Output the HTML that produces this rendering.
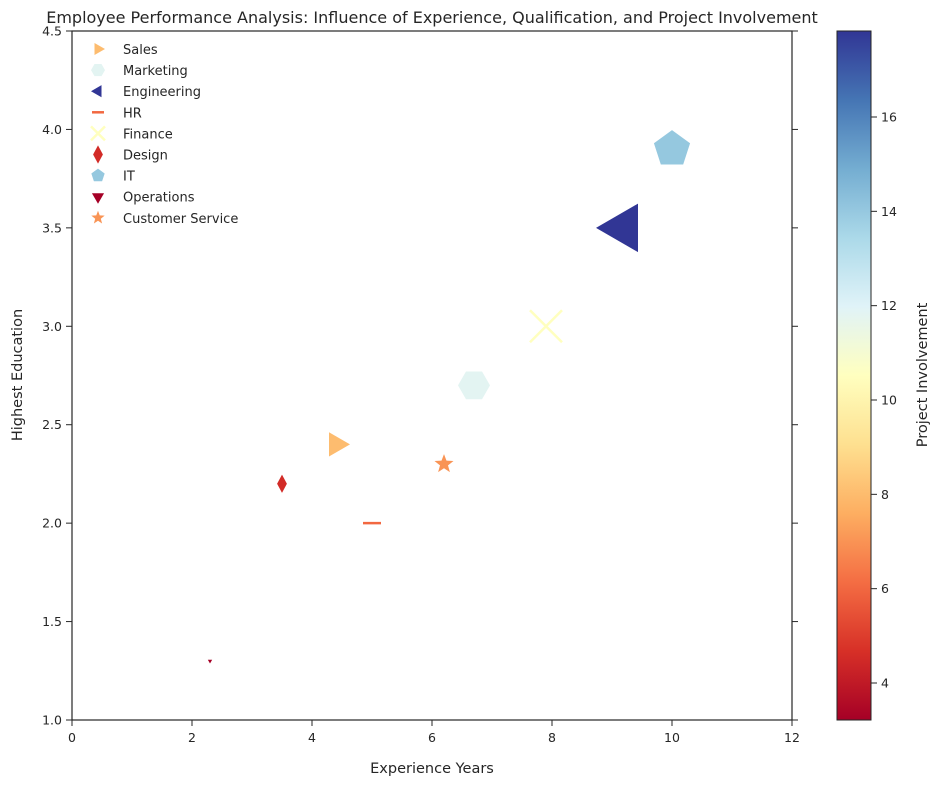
<!DOCTYPE html>
<html><head><meta charset="utf-8"><style>
body{margin:0;background:#fff;font-family:"Liberation Sans","DejaVu Sans",sans-serif;}
svg text{font-family:"DejaVu Sans","Liberation Sans",sans-serif;fill:#262626;}
</style></head><body>
<svg id="c" width="939" height="785" xmlns="http://www.w3.org/2000/svg"></svg>
<script>
const depts=["Sales","Marketing","Engineering","HR","Finance","Design","IT","Operations","Customer Service"];
const experience=[4.4,6.7,9.2,5.0,7.9,3.5,10.0,2.3,6.2];
const education=[2.4,2.7,3.5,2.0,3.0,2.2,3.9,1.3,2.3];
const involvement=[8,11.8,17.8,6,10.5,4.5,14,3.2,7];
const sizes=[14,16,28,9,16,7,19,2.5,10];
const shapes=["tri-right","hex","tri-left","hline","x","diamond","pent","tri-down","star"];
const xTicks=[0,2,4,6,8,10,12];
const yTicks=[1.0,1.5,2.0,2.5,3.0,3.5,4.0,4.5];
const cTicks=[4,6,8,10,12,14,16];
const X0=72,X1=792,Y0=720,Y1=31;
const sx=v=>X0+(v-0)/12*(X1-X0);
const sy=v=>Y0-(v-1)/3.5*(Y0-Y1);
const CMIN=3.2,CMAX=17.8,CB=[837,871];
const cy=v=>683-(v-4)/12*566;
const stops=["#a50026","#d73027","#f46d43","#fdae61","#fee090","#ffffbf","#e0f3f8","#abd9e9","#74add1","#4575b4","#313695"];
function hex2(h){return [1,3,5].map(i=>parseInt(h.substr(i,2),16));}
function cmap(v){let t=Math.max(0,Math.min(1,(v-CMIN)/(CMAX-CMIN)))*10;let i=Math.min(9,Math.floor(t)),f=t-i;let a=hex2(stops[i]),b=hex2(stops[i+1]);return "rgb("+a.map((x,k)=>Math.round(x+(b[k]-x)*f)).join(",")+")";}
const svg=document.getElementById('c');const NS="http://www.w3.org/2000/svg";
function el(t,a,p){const e=document.createElementNS(NS,t);for(const k in a)e.setAttribute(k,a[k]);(p||svg).appendChild(e);return e;}
function poly(n,r,rot){let p=[];for(let i=0;i<n;i++){let a=rot+i*2*Math.PI/n;p.push((r*Math.cos(a)).toFixed(2)+","+(r*Math.sin(a)).toFixed(2));}return p.join(" ");}
function marker(shape,x,y,r,col,parent){
 const g=el('g',{transform:`translate(${x},${y})`},parent);
 if(shape=="tri-right")el('polygon',{points:poly(3,r,0),fill:col},g);
 else if(shape=="tri-left")el('polygon',{points:poly(3,r,Math.PI),fill:col},g);
 else if(shape=="tri-down")el('polygon',{points:poly(3,r,Math.PI/2),fill:col},g);
 else if(shape=="hex")el('polygon',{points:poly(6,r,Math.PI/6+Math.PI/2),fill:col},g);
 else if(shape=="pent")el('polygon',{points:poly(5,r,-Math.PI/2),fill:col},g);
 else if(shape=="diamond")el('polygon',{points:`0,${-r*1.3} ${r*0.7},0 0,${r*1.3} ${-r*0.7},0`,fill:col},g);
 else if(shape=="hline")el('line',{x1:-r,y1:0,x2:r,y2:0,stroke:col,'stroke-width':2.5},g);
 else if(shape=="x")el('path',{d:`M${-r},${-r}L${r},${r}M${-r},${r}L${r},${-r}`,stroke:col,'stroke-width':2.5,fill:'none'},g);
 else if(shape=="star"){let p=[];for(let i=0;i<10;i++){let a=-Math.PI/2+i*Math.PI/5,rr=i%2?r*0.42:r;p.push((rr*Math.cos(a)).toFixed(2)+","+(rr*Math.sin(a)).toFixed(2));}el('polygon',{points:p.join(" "),fill:col},g);}
 return g;
}
let t=el('text',{x:432,y:23,'text-anchor':'middle','font-size':16});t.textContent="Employee Performance Analysis: Influence of Experience, Qualification, and Project Involvement";


const fr=el('rect',{x:X0,y:Y1,width:X1-X0,height:Y0-Y1,fill:'none',stroke:'#262626','stroke-width':1.2});


xTicks.forEach(v=>{el('line',{x1:sx(v),x2:sx(v),y1:Y0,y2:Y0+6,stroke:'#262626'});const tt=el('text',{x:sx(v),y:Y0+22,'text-anchor':'middle','font-size':12.5});tt.textContent=v;

});
yTicks.forEach(v=>{el('line',{x1:X0-6,x2:X0,y1:sy(v),y2:sy(v),stroke:'#262626'});el('line',{x1:X1,x2:X1+6,y1:sy(v),y2:sy(v),stroke:'#262626'});const tt=el('text',{x:X0-10,y:sy(v)+4.5,'text-anchor':'end','font-size':12.5});tt.textContent=v.toFixed(1);

});
let xl=el('text',{x:432,y:773,'text-anchor':'middle','font-size':14.5});xl.textContent="Experience Years";


let yl=el('text',{x:22,y:375,'text-anchor':'middle','font-size':14.5,transform:'rotate(-90 22 375)'});yl.textContent="Highest Education";


depts.forEach((d,i)=>{const g=marker(shapes[i],sx(experience[i]),sy(education[i]),sizes[i],cmap(involvement[i]));

});
depts.forEach((d,i)=>{const y=49+i*21.1;const g=marker(shapes[i],98,y,shapes[i]=="hline"?6:7,cmap(involvement[i]));


const tt=el('text',{x:123,y:y+5,'font-size':13});tt.textContent=d;

});
const defs=el('defs',{});const lg=el('linearGradient',{id:'cg',x1:0,y1:1,x2:0,y2:0},defs);
stops.forEach((s,i)=>el('stop',{offset:i/10,'stop-color':s},lg));
const cb=el('rect',{x:CB[0],y:Y1,width:CB[1]-CB[0],height:Y0-Y1,fill:'url(#cg)',stroke:'#262626'});


cTicks.forEach(v=>{el('line',{x1:CB[1],x2:CB[1]+6,y1:cy(v),y2:cy(v),stroke:'#262626'});const tt=el('text',{x:CB[1]+10,y:cy(v)+4.5,'font-size':12.5});tt.textContent=v;

});
let cl=el('text',{x:927,y:375,'text-anchor':'middle','font-size':14.5,transform:'rotate(-90 927 375)'});cl.textContent="Project Involvement";


</script>
</body></html>
